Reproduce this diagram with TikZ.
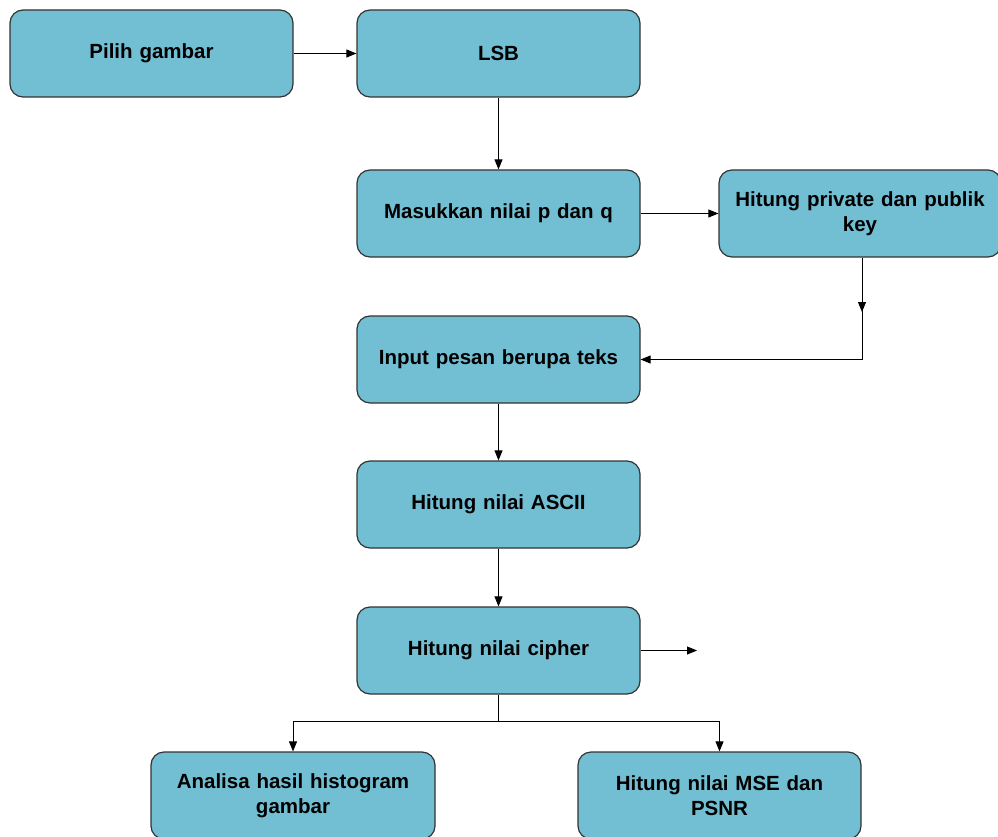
\documentclass[tikz,border=0pt]{standalone}
\usepackage{fontspec}
\setmainfont{Liberation Sans}
\usetikzlibrary{arrows.meta}
\definecolor{boxfill}{HTML}{72BED3}
\definecolor{boxline}{HTML}{333333}
\begin{document}
\begin{tikzpicture}[x=1pt,y=-1pt,
  flowbox/.style={draw=boxline, line width=1.2pt, fill=boxfill, rounded corners=13pt,
    minimum width=283pt, minimum height=87pt, inner sep=2pt, align=center,
    font=\fontsize{20.5}{25}\selectfont\bfseries, text width=278pt},
  conn/.style={draw=black, line width=0.9pt},
  arr/.style={conn, -{Triangle[length=10pt,width=8pt]}}]
\useasboundingbox (0,0) rectangle (998,837);
\begin{scope}
\clip (0,0) rectangle (998,837);
\node[flowbox] (pilih) at (151.5,53.5) {Pilih gambar};
\node[flowbox] (lsb) at (498.5,53.5) {LSB};
\node[flowbox] (masuk) at (498.5,213.5) {Masukkan nilai p dan q};
\node[flowbox, minimum width=280pt] (priv) at (860,213.5) {Hitung private dan publik\\key};
\node[flowbox] (input) at (498.5,359.5) {Input pesan berupa teks};
\node[flowbox] (ascii) at (498.5,504.5) {Hitung nilai ASCII};
\node[flowbox] (cipher) at (498.5,650.5) {Hitung nilai cipher};
\node[flowbox, minimum width=284pt] (anal) at (293,795.5) {Analisa hasil histogram\\gambar};
\node[flowbox] (mse) at (719.5,795.5) {Hitung nilai MSE dan\\PSNR};
\coordinate (ciphout) at (697,650.5);
\coordinate (privmid) at (862,312);
\coordinate (split) at (498.5,721);
\end{scope}
\draw[arr] (pilih.east) -- (lsb.west);
\draw[arr] (lsb.south) -- (masuk.north);
\draw[arr] (masuk.east) -- (priv.west);
\draw[arr] (priv.south -| privmid) -- (privmid);
\draw[arr] (priv.south -| privmid) |- (input.east);
\draw[arr] (input.south) -- (ascii.north);
\draw[arr] (ascii.south) -- (cipher.north);
\draw[arr] (cipher.east) -- (ciphout);
\draw[conn] (cipher.south) -- (split);
\draw[arr] (split) -| (anal.north);
\draw[arr] (split) -| (mse.north);
\end{tikzpicture}
\end{document}
